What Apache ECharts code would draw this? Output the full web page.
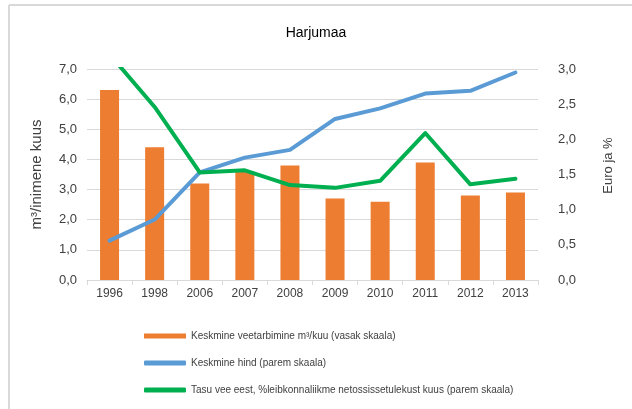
<!DOCTYPE html>
<html>
<head>
<meta charset="utf-8">
<script src="https://cdn.jsdelivr.net/npm/echarts@6/dist/echarts.min.js"></script>
<style>
  html, body { margin: 0; padding: 0; background: #fff; }
  #chart { width: 632px; height: 409px; }
</style>
</head>
<body>
<div id="chart"></div>
<script>
// aastad ja väärtused (loetud jooniselt)
var years = ["1996", "1998", "2006", "2007", "2008", "2009", "2010", "2011", "2012", "2013"];
var consumption = [6.3, 4.4, 3.2, 3.6, 3.8, 2.7, 2.6, 3.9, 2.8, 2.9];
var avgPrice = [0.56, 0.86, 1.53, 1.74, 1.85, 2.29, 2.44, 2.65, 2.69, 2.95];
var sharePct = [3.21, 2.46, 1.53, 1.56, 1.35, 1.31, 1.41, 2.09, 1.36, 1.44];

var seriesNames = [
  "Keskmine veetarbimine m³/kuu (vasak skaala)",
  "Keskmine hind (parem skaala)",
  "Tasu vee eest, %leibkonnaliikme netossissetulekust kuus (parem skaala)"
];

var font = "Liberation Sans, Arial, sans-serif";
var grey = "#d9d9d9";
var fmt = function (v) { return v.toFixed(1).replace(".", ","); };

var chart = echarts.init(document.getElementById("chart"));

chart.setOption({
  animation: false,
  textStyle: { fontFamily: font },
  title: {
    text: "Harjumaa",
    left: "center",
    top: 21,
    textStyle: { fontFamily: font, fontSize: 14, fontWeight: "normal", color: "#000" }
  },
  graphic: [
    { type: "line", shape: { x1: 9, y1: 5, x2: 632, y2: 5 }, style: { stroke: grey, lineWidth: 2 } },
    { type: "line", shape: { x1: 9, y1: 5, x2: 9, y2: 409 }, style: { stroke: grey, lineWidth: 2 } }
  ],
  grid: { left: 87, right: 94, top: 69, bottom: 129 },
  legend: {
    orient: "vertical",
    left: 139,
    top: 324,
    itemWidth: 42,
    itemHeight: 5,
    itemGap: 13,
    textStyle: { fontFamily: font, fontSize: 10, color: "#404040", lineHeight: 14 },
    data: [
      { name: seriesNames[0], icon: "rect" },
      { name: seriesNames[1], icon: "roundRect" },
      { name: seriesNames[2], icon: "roundRect" }
    ]
  },
  xAxis: {
    type: "category",
    data: years,
    boundaryGap: true,
    axisLine: { lineStyle: { color: grey } },
    axisTick: { show: true, length: 5, lineStyle: { color: grey } },
    axisLabel: { color: "#404040", fontSize: 12, margin: 8 }
  },
  yAxis: [
    {
      type: "value",
      min: 0, max: 7, interval: 1,
      name: "m³/inimene kuus",
      nameLocation: "middle",
      nameRotate: 90,
      nameGap: 43,
      nameTextStyle: { fontFamily: font, fontSize: 15, color: "#404040" },
      axisLine: { show: false },
      axisTick: { show: false },
      splitLine: { lineStyle: { color: grey } },
      axisLabel: { formatter: fmt, color: "#404040", fontSize: 13, margin: 10 }
    },
    {
      type: "value",
      min: 0, max: 3, interval: 0.5,
      name: "Euro ja %",
      nameLocation: "middle",
      nameRotate: 90,
      nameGap: 64,
      nameTextStyle: { fontFamily: font, fontSize: 13, color: "#404040", padding: [0, 0, 0, 18] },
      axisLine: { show: false },
      axisTick: { show: false },
      splitLine: { show: false },
      axisLabel: { formatter: fmt, color: "#404040", fontSize: 13, margin: 20 }
    }
  ],
  series: [
    {
      name: seriesNames[0],
      type: "bar",
      yAxisIndex: 0,
      data: consumption,
      barWidth: 19,
      itemStyle: { color: "#ED7D31" }
    },
    {
      name: seriesNames[1],
      type: "line",
      yAxisIndex: 1,
      data: avgPrice,
      symbol: "none",
      lineStyle: { color: "#5B9BD5", width: 4, cap: "round", join: "round" },
      itemStyle: { color: "#5B9BD5" }
    },
    {
      name: seriesNames[2],
      type: "line",
      yAxisIndex: 1,
      data: sharePct,
      symbol: "none",
      clip: true,
      lineStyle: { color: "#00B050", width: 4, cap: "round", join: "round" },
      itemStyle: { color: "#00B050" }
    }
  ]
});
</script>
</body>
</html>
